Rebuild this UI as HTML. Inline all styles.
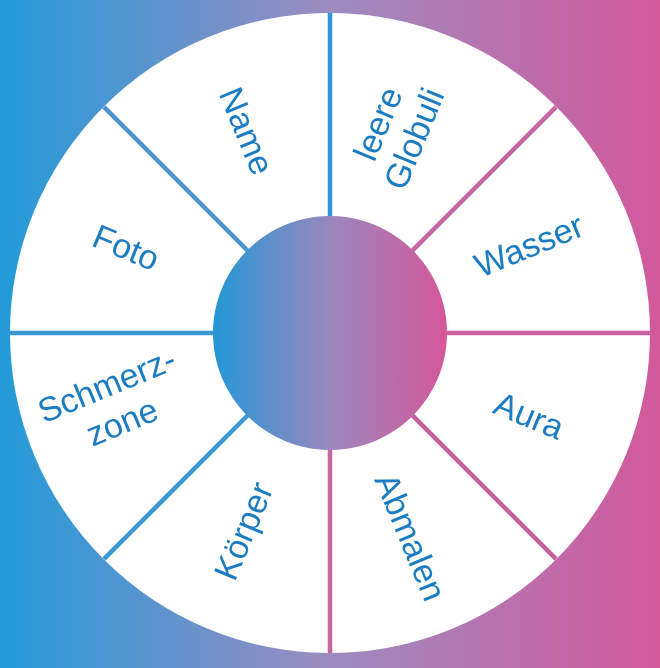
<!DOCTYPE html>
<html><head><meta charset="utf-8"><style>
html,body{margin:0;padding:0;width:660px;height:668px;overflow:hidden}
svg{display:block}
text{font-family:"Liberation Sans",sans-serif;font-size:34px;fill:#1b7cc2;text-anchor:middle;dominant-baseline:middle}
</style></head><body>
<svg width="660" height="668" viewBox="0 0 660 668">
<defs>
<linearGradient id="bg" x1="0" y1="0" x2="660" y2="0" gradientUnits="userSpaceOnUse">
<stop offset="0" stop-color="#239bd9"/><stop offset="0.5" stop-color="#9c8cc0"/><stop offset="1" stop-color="#d3599b"/>
</linearGradient>
<linearGradient id="c" x1="213" y1="0" x2="447" y2="0" gradientUnits="userSpaceOnUse">
<stop offset="0" stop-color="#2597d6"/><stop offset="0.5" stop-color="#9a87bd"/><stop offset="1" stop-color="#d5579a"/>
</linearGradient>
</defs>
<rect width="660" height="668" fill="url(#bg)"/>
<circle cx="330" cy="333" r="320" fill="#fff"/>
<g stroke-width="4.5">
<line x1="330" y1="13" x2="330" y2="333" stroke="#2f98d4"/>
<line x1="330" y1="333" x2="330" y2="653" stroke="#c664a4"/>
<line x1="10" y1="333" x2="330" y2="333" stroke="#3d99d3"/>
<line x1="330" y1="333" x2="650" y2="333" stroke="#c9609f"/>
<line x1="104" y1="107" x2="330" y2="333" stroke="#4e93cf"/>
<line x1="556" y1="107" x2="330" y2="333" stroke="#c466a4"/>
<line x1="104" y1="559" x2="330" y2="333" stroke="#3c97d4"/>
<line x1="556" y1="559" x2="330" y2="333" stroke="#c3619f"/>
</g>
<circle cx="330" cy="333" r="117" fill="url(#c)"/>
<text transform="translate(244,132) rotate(67.5)">Name</text>
<text transform="translate(398,132) rotate(-67.5)"><tspan x="0" y="-19">leere</tspan><tspan x="0" y="20">Globuli</tspan></text>
<text transform="translate(530,248) rotate(-22.5)">Wasser</text>
<text transform="translate(528,418) rotate(22.5)">Aura</text>
<text transform="translate(408,538) rotate(67.5)">Abmalen</text>
<text transform="translate(246,532) rotate(-67.5)">Körper</text>
<text transform="translate(125,250) rotate(22.5)">Foto</text>
<text transform="translate(115,405) rotate(-22.5)"><tspan x="0" y="-19">Schmerz-</tspan><tspan x="0" y="21">zone</tspan></text>
</svg>
</body></html>
